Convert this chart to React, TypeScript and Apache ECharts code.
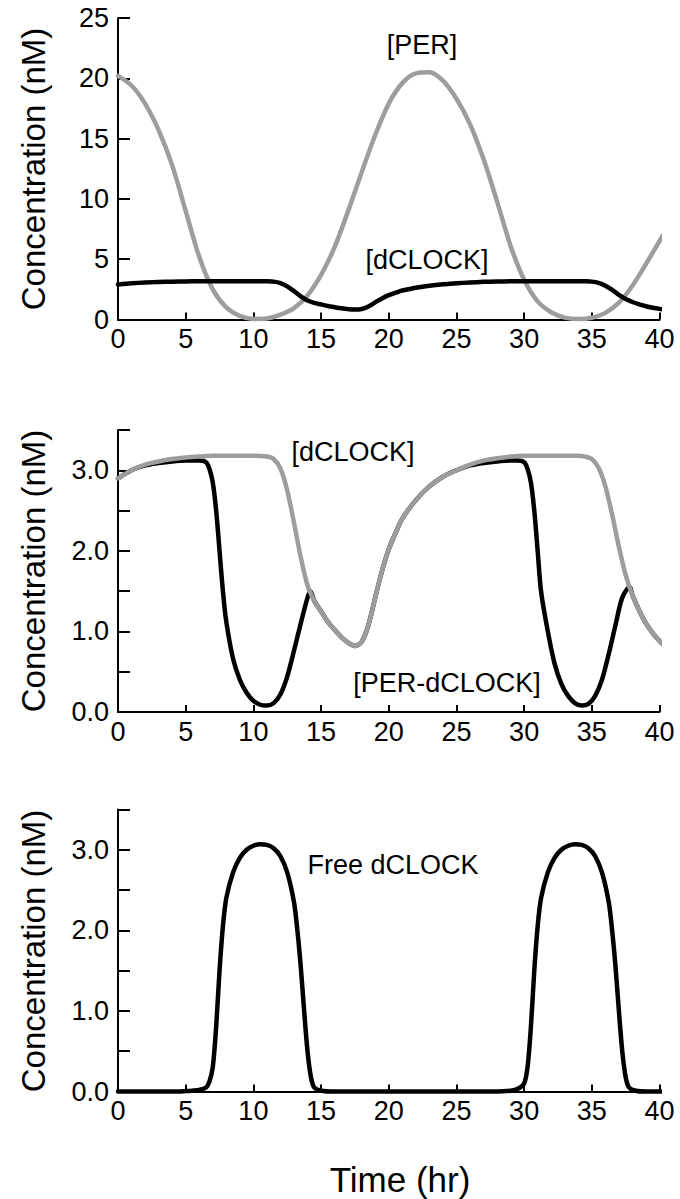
import React, { useEffect, useRef } from "react";
import * as echarts from "echarts";

// ---------- Data ----------
const xTicks = [0, 5, 10, 15, 20, 25, 30, 35, 40];

// Top panel: [PER] (gray), nM
const perTime = [0, 1, 2, 3, 4, 5, 6, 7, 8, 9, 10, 11, 12, 13, 14, 15, 16, 17, 18, 19, 20, 21, 22, 23, 24, 25, 26, 27, 28, 29, 30, 31, 32, 33, 34, 35, 36, 37, 38, 39, 40, 40.2];
const perValues = [20.2, 19.4, 17.9, 15.7, 12.8, 9.0, 5.2, 2.5, 1.0, 0.3, 0.05, 0.08, 0.4, 0.95, 2.0, 3.7, 6.0, 9.0, 12.2, 15.3, 17.9, 19.6, 20.4, 20.5, 19.8, 18.3, 16.2, 13.3, 9.8, 6.1, 3.3, 1.5, 0.6, 0.15, 0.04, 0.15, 0.55, 1.4, 2.8, 4.6, 6.5, 6.9];

// Total dCLOCK (top panel black, middle panel gray), nM
const clockTime = [0, 1, 2, 3, 4, 5, 6, 7, 8, 9, 10, 11, 11.5, 12, 12.5, 13, 13.5, 14, 14.5, 15, 15.5, 16, 16.5, 17, 17.5, 18, 18.5, 19, 19.5, 20, 20.5, 21, 22, 23, 24, 25, 26, 27, 28, 29, 30, 31, 32, 33, 34, 34.5, 35, 35.5, 36, 36.5, 37, 37.5, 38, 38.5, 39, 39.5, 40, 40.2];
const clockValues = [2.9, 3.0, 3.07, 3.11, 3.14, 3.16, 3.17, 3.18, 3.18, 3.18, 3.18, 3.17, 3.14, 3.02, 2.75, 2.35, 1.92, 1.57, 1.38, 1.25, 1.12, 1.02, 0.93, 0.86, 0.82, 0.87, 1.08, 1.42, 1.75, 2.02, 2.22, 2.4, 2.63, 2.8, 2.92, 3.0, 3.07, 3.12, 3.15, 3.17, 3.18, 3.18, 3.18, 3.18, 3.18, 3.17, 3.14, 3.03, 2.8, 2.45, 2.05, 1.7, 1.45, 1.26, 1.1, 0.98, 0.88, 0.85];

// Middle panel: [PER-dCLOCK] (black), nM
const complexTime = [0, 1, 2, 3, 4, 5, 6, 6.5, 6.75, 7, 7.25, 7.5, 7.75, 8, 8.5, 9, 9.5, 10, 10.5, 11, 11.5, 12, 12.5, 13, 13.5, 14, 14.2, 14.5, 15, 15.5, 16, 16.5, 17, 17.5, 18, 18.5, 19, 19.5, 20, 20.5, 21, 22, 23, 24, 25, 26, 27, 28, 29, 29.5, 30, 30.25, 30.5, 30.75, 31, 31.25, 31.75, 32.25, 32.75, 33.25, 33.75, 34.25, 34.75, 35.25, 35.75, 36.25, 36.75, 37.25, 37.8, 38, 38.5, 39, 39.5, 40, 40.2];
const complexValues = [2.9, 3.0, 3.06, 3.09, 3.11, 3.12, 3.12, 3.1, 3.02, 2.85, 2.5, 2.0, 1.5, 1.12, 0.66, 0.4, 0.24, 0.14, 0.09, 0.08, 0.11, 0.22, 0.44, 0.76, 1.1, 1.42, 1.5, 1.38, 1.25, 1.12, 1.02, 0.93, 0.86, 0.82, 0.87, 1.08, 1.42, 1.75, 2.02, 2.22, 2.4, 2.63, 2.8, 2.92, 3.0, 3.06, 3.09, 3.11, 3.12, 3.12, 3.1, 3.02, 2.85, 2.5, 2.0, 1.5, 1.0, 0.6, 0.35, 0.2, 0.11, 0.08, 0.1, 0.2, 0.4, 0.72, 1.08, 1.42, 1.55, 1.45, 1.26, 1.1, 0.98, 0.88, 0.85];

// Bottom panel: Free dCLOCK (black), nM
const freeTime = [0, 2, 4, 5, 5.5, 6, 6.5, 6.75, 7, 7.25, 7.5, 7.75, 8, 8.5, 9, 9.5, 10, 10.5, 11, 11.5, 12, 12.5, 13, 13.25, 13.5, 13.75, 14, 14.25, 14.5, 15, 16, 20, 25, 28, 29, 29.5, 30, 30.25, 30.5, 30.75, 31, 31.25, 31.75, 32.25, 32.75, 33.25, 33.75, 34.25, 34.75, 35.25, 35.75, 36.25, 36.5, 36.75, 37, 37.25, 37.5, 37.75, 38.25, 39, 40, 40.5];
const freeValues = [0, 0, 0, 0.005, 0.01, 0.02, 0.05, 0.12, 0.3, 0.8, 1.5, 2.05, 2.4, 2.72, 2.9, 3.0, 3.05, 3.07, 3.06, 3.02, 2.92, 2.72, 2.35, 2.0, 1.55, 1.0, 0.5, 0.18, 0.05, 0.01, 0, 0, 0, 0, 0.01, 0.03, 0.1, 0.3, 0.8, 1.5, 2.05, 2.4, 2.72, 2.9, 3.0, 3.05, 3.07, 3.06, 3.02, 2.92, 2.72, 2.35, 2.0, 1.55, 1.0, 0.5, 0.18, 0.05, 0.01, 0, 0, 0];

const yTopTicks = [0, 5, 10, 15, 20, 25];
const yLowLabels = [0, 1, 2, 3];

// ---------- Helpers ----------
const FONT = "'Liberation Sans', Arial, Helvetica, sans-serif";
const GRAY = "#9d9d9d";
const pairs = (t: number[], v: number[]) => t.map((x, i) => [x, v[i]]);

const xAxisBase = (gridIndex: number) => ({
  type: "value",
  gridIndex,
  min: xTicks[0],
  max: xTicks[xTicks.length - 1],
  interval: xTicks[1] - xTicks[0],
  axisLine: { show: true, lineStyle: { color: "#000", width: 2 } },
  axisTick: { show: true, inside: true, length: 7, lineStyle: { color: "#000", width: 2 } },
  axisLabel: { color: "#000", fontSize: 27, fontFamily: FONT, margin: 6 },
  splitLine: { show: false },
});

const yLowAxis = (gridIndex: number) => ({
  type: "value",
  gridIndex,
  min: 0,
  max: 3.5,
  interval: 0.5,
  axisLine: { show: true, lineStyle: { color: "#000", width: 2 } },
  axisTick: { show: true, inside: true, length: 12, lineStyle: { color: "#000", width: 2 } },
  axisLabel: {
    color: "#000",
    fontSize: 27,
    fontFamily: FONT,
    margin: 9,
    formatter: (v: number) =>
      yLowLabels.some((l) => Math.abs(l - v) < 1e-6) ? v.toFixed(1) : "",
  },
  splitLine: { show: false },
});

const lineSeries = (
  xAxisIndex: number,
  data: number[][],
  color: string,
  width: number,
  z: number
) => ({
  type: "line",
  xAxisIndex,
  yAxisIndex: xAxisIndex,
  data,
  showSymbol: false,
  symbol: "none",
  smooth: 0.3,
  clip: false,
  z,
  lineStyle: { color, width, cap: "round", join: "round" },
});

const yTitle = (cy: number) => ({
  type: "text",
  x: 33,
  y: cy,
  rotation: Math.PI / 2,
  style: {
    text: "Concentration (nM)",
    fontSize: 33,
    fontFamily: FONT,
    fill: "#000",
    textAlign: "center",
    textVerticalAlign: "middle",
  },
});

const note = (text: string, x: number, y: number) => ({
  type: "text",
  x,
  y,
  style: {
    text,
    fontSize: 27,
    fontFamily: FONT,
    fill: "#000",
    textAlign: "center",
    textVerticalAlign: "middle",
  },
});

export default function App() {
  const ref = useRef<HTMLDivElement>(null);

  useEffect(() => {
    if (!ref.current) return;
    const chart = echarts.init(ref.current, undefined, { renderer: "svg" });

    const grids = [
      { left: 118, top: 18, width: 541.5, height: 301.5 },
      { left: 118, top: 430, width: 541.5, height: 282 },
      { left: 118, top: 809.5, width: 541.5, height: 282 },
    ];

    chart.setOption({
      animation: false,
      backgroundColor: "#fff",
      grid: grids,
      xAxis: [xAxisBase(0), xAxisBase(1), xAxisBase(2)],
      yAxis: [
        {
          type: "value",
          gridIndex: 0,
          min: yTopTicks[0],
          max: yTopTicks[yTopTicks.length - 1],
          interval: yTopTicks[1] - yTopTicks[0],
          axisLine: { show: true, lineStyle: { color: "#000", width: 2 } },
          axisTick: { show: true, inside: true, length: 12, lineStyle: { color: "#000", width: 2 } },
          axisLabel: { color: "#000", fontSize: 27, fontFamily: FONT, margin: 9 },
          splitLine: { show: false },
        },
        yLowAxis(1),
        yLowAxis(2),
      ],
      series: [
        lineSeries(0, pairs(perTime, perValues), GRAY, 4.5, 2),
        lineSeries(0, pairs(clockTime, clockValues), "#000", 4.5, 3),
        lineSeries(1, pairs(complexTime, complexValues), "#000", 4.5, 2),
        lineSeries(1, pairs(clockTime, clockValues), GRAY, 4.5, 3),
        lineSeries(2, pairs(freeTime, freeValues), "#000", 4.5, 3),
      ],
      graphic: [
        yTitle(169),
        yTitle(571),
        yTitle(951),
        note("[PER]", 422, 45),
        note("[dCLOCK]", 427, 260),
        note("[dCLOCK]", 353, 452),
        note("[PER-dCLOCK]", 447, 683),
        note("Free dCLOCK", 393, 865),
        {
          type: "text",
          x: 400,
          y: 1179,
          style: {
            text: "Time (hr)",
            fontSize: 35,
            fontFamily: FONT,
            fill: "#000",
            textAlign: "center",
            textVerticalAlign: "middle",
          },
        },
      ],
    });

    return () => chart.dispose();
  }, []);

  return (
    <div
      ref={ref}
      style={{ position: "fixed", left: 0, top: 0, width: 680, height: 1199, background: "#fff" }}
    />
  );
}
